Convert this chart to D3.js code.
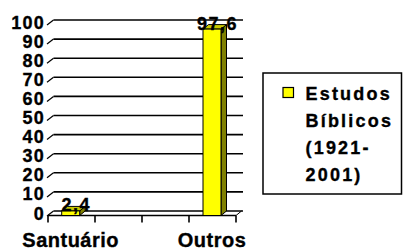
<!DOCTYPE html>
<html><head><meta charset="utf-8">
<script src="https://cdn.jsdelivr.net/npm/d3@7"></script>
<style>body{margin:0;background:#fff}svg{display:block}</style>
</head><body>
<script>
const categories = ["Santuário", "Outros"];
const values = [2.4, 97.6];
const yTicks = [0, 10, 20, 30, 40, 50, 60, 70, 80, 90, 100];
const valueLabels = ["2,4", "97,6"];
const legendLines = ["Estudos", "Bíblicos", "(1921-", "2001)"];

const W = 403, H = 250;
const depth = {x: 5.5, y: -4.5};
const FONT = "Arial, 'Liberation Sans', Helvetica, sans-serif";
const svg = d3.select("body").append("svg").attr("width", W).attr("height", H)
  .attr("font-family", FONT).attr("font-weight", "bold");

const y = d3.scaleLinear().domain([0, 100]).range([215.5, 24.5]);
const axisX = d3.scaleLinear().domain([0, 1]).range([48, 236]);
const x = d3.scalePoint().domain(categories).range([70.7, 212]);
const barW = 18;

function heavy(sel) {
  return sel.attr("stroke", "#000").attr("stroke-width", 0.35).attr("fill", "#000");
}

// back wall gridlines
const g = svg.append("g");
g.selectAll("line.grid").data(yTicks).join("line")
  .attr("x1", axisX(0) + depth.x).attr("x2", 243)
  .attr("y1", d => y(d) + depth.y).attr("y2", d => y(d) + depth.y)
  .attr("stroke", "#000").attr("stroke-width", 1.6);
// diagonal ticks at left
g.selectAll("line.diag").data(yTicks).join("line")
  .attr("x1", axisX(0) - 1).attr("y1", d => y(d) + 0.5)
  .attr("x2", axisX(0) + depth.x).attr("y2", d => y(d) + depth.y)
  .attr("stroke", "#000").attr("stroke-width", 1.2);
// y labels
heavy(g.selectAll("text.yl").data(yTicks).join("text")
  .attr("x", 45).attr("y", d => y(d) + depth.y + 8.5)
  .attr("text-anchor", "end").attr("font-size", 18).attr("letter-spacing", 1.2)
  .text(d => d));

// floor front line and ticks
g.append("line").attr("x1", axisX(0)).attr("x2", axisX(1))
  .attr("y1", y(0)).attr("y2", y(0)).attr("stroke", "#000").attr("stroke-width", 1.6);
g.selectAll("line.xt").data(d3.range(0, 1.0001, 0.25)).join("line")
  .attr("x1", d => axisX(d)).attr("x2", d => axisX(d))
  .attr("y1", y(0)).attr("y2", y(0) + 7)
  .attr("stroke", "#000").attr("stroke-width", 1.6);
g.append("line").attr("x1", axisX(1)).attr("y1", y(0))
  .attr("x2", axisX(1) + depth.x).attr("y2", y(0) + depth.y)
  .attr("stroke", "#000").attr("stroke-width", 1);

// bars
const bars = svg.append("g").selectAll("g").data(categories).join("g");
bars.each(function(c, i) {
  const el = d3.select(this);
  const x0 = x(c) - barW / 2, x1 = x(c) + barW / 2;
  const yt = y(values[i]), yb = y(0);
  const dx = depth.x, dy = depth.y;
  el.append("path").attr("d", `M${x1},${yb}L${x1 + dx},${yb + dy}L${x1 + dx},${yt + dy}L${x1},${yt}Z`)
    .attr("fill", "#808000").attr("stroke", "#000").attr("stroke-width", 1);
  el.append("path").attr("d", `M${x0},${yt}L${x0 + dx},${yt + dy}L${x1 + dx},${yt + dy}L${x1},${yt}Z`)
    .attr("fill", "#c8c800").attr("stroke", "#000").attr("stroke-width", 1);
  el.append("rect").attr("x", x0).attr("y", yt).attr("width", barW).attr("height", yb - yt)
    .attr("fill", "#ffff00").attr("stroke", "#000").attr("stroke-width", 1);
});
// value labels
heavy(svg.append("g").selectAll("text").data(categories).join("text")
  .attr("x", c => x(c) + 5.5).attr("y", (c, i) => y(values[i]) + 0.5)
  .attr("text-anchor", "middle").attr("font-size", 18).attr("letter-spacing", 1.5)
  .text((c, i) => valueLabels[i]));

// x labels
heavy(svg.append("g").selectAll("text").data(categories).join("text")
  .attr("x", c => x(c)).attr("y", 247)
  .attr("text-anchor", "middle").attr("font-size", 20).attr("letter-spacing", 0.5)
  .text(c => c));

// legend
const lg = svg.append("g");
lg.append("rect").attr("x", 263).attr("y", 73).attr("width", 138.5).attr("height", 121)
  .attr("fill", "#fff").attr("stroke", "#000").attr("stroke-width", 1.5);
lg.append("rect").attr("x", 283).attr("y", 87.5).attr("width", 10.5).attr("height", 10)
  .attr("fill", "#ffff00").attr("stroke", "#000").attr("stroke-width", 1.2);
heavy(lg.selectAll("text").data(legendLines).join("text")
  .attr("x", 305.5).attr("y", (d, i) => 100 + i * 27)
  .attr("font-size", 18).attr("letter-spacing", 2.2)
  .text(d => d));
</script>
</body></html>
